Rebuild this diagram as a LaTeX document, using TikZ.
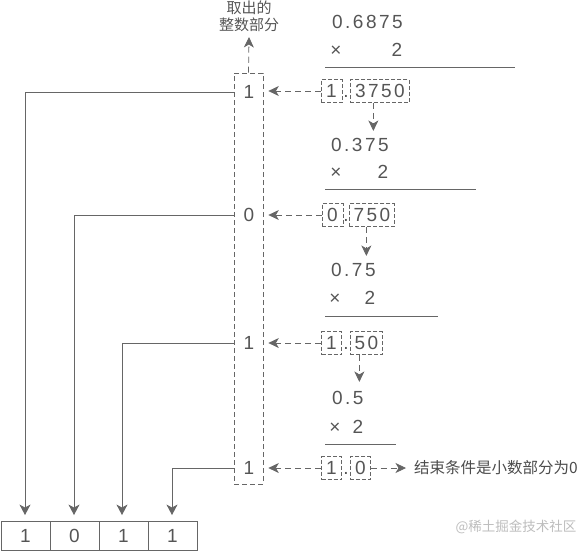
\documentclass[tikz,border=0pt]{standalone}
\usepackage{fontspec}
\setmainfont{Liberation Sans}
\newfontfamily\cjk{Noto Sans CJK SC}
\newfontfamily\numf{Liberation Sans}[LetterSpace=13]
\usetikzlibrary{arrows.meta}
\definecolor{tc}{HTML}{555555}
\definecolor{lc}{HTML}{666666}
\definecolor{wm}{HTML}{BDBDBD}
\begin{document}
\begin{tikzpicture}[x=1pt,y=-1pt,
  txt/.style={inner sep=0pt, text=tc, font=\fontsize{19}{19}\selectfont\numf, text height=13.7pt, text depth=0pt},
  dbox/.style={txt, draw=lc, line width=0.7pt, dash pattern=on 4pt off 2pt, minimum height=23pt},
  fbox/.style={dbox, anchor=west},
  cell/.style={txt, draw=lc, line width=0.9pt, minimum width=49pt, minimum height=29pt},
  darr/.style={draw=lc, line width=0.8pt, dash pattern=on 6pt off 4pt, -{Stealth[length=10.5pt,width=10pt,inset=3pt]}},
  sarr/.style={draw=lc, line width=0.9pt, -{Stealth[length=10.5pt,width=11pt,inset=3pt]}},
  rule/.style={draw=lc, line width=0.9pt},
  cjktxt/.style={inner sep=0pt, text=tc, font=\fontsize{15.5}{17}\selectfont\cjk}
]
\useasboundingbox (0,0) rectangle (583,552);

% column of extracted integer parts
\node[draw=lc, line width=0.7pt, dash pattern=on 5pt off 3pt, minimum width=29pt, minimum height=411pt, inner sep=0pt] (col) at (248.5,278.5) {};
\node[txt] (d1) at (249,92) {1};
\node[txt] (d2) at (249,215) {0};
\node[txt] (d3) at (249,343) {1};
\node[txt] (d4) at (249,468) {1};

% label on top
\node[cjktxt, align=center, font=\fontsize{15}{17}\selectfont\cjk] (lbl) at (249,16.5) {取出的\\整数部分};
\coordinate (uptip) at (249,37);
\draw[darr] (col.north) -- (uptip);

% step 1
\node[txt, anchor=west] (m1) at (332,22) {0.6875};
\node[txt] (x1) at (336,50) {×};
\node[txt] (t1) at (397,50) {2};
\draw[rule] (325,67) -- (515,67);
\node[dbox, minimum width=21pt] (i1) at (331.5,91) {1};
\node[txt] (p1) at (346,91) {.};
\node[fbox, minimum width=59pt] (f1) at (350,91) {3750};

% step 2
\node[txt, anchor=west] (m2) at (331,145) {0.375};
\node[txt] (x2) at (336,172) {×};
\node[txt] (t2) at (383,172) {2};
\draw[rule] (325,189) -- (476,189);
\node[dbox, minimum width=21pt] (i2) at (332.5,215) {0};
\node[txt] (p2) at (346,215) {.};
\node[fbox, minimum width=45pt] (f2) at (349,215) {750};

% step 3
\node[txt, anchor=west] (m3) at (331,270) {0.75};
\node[txt] (x3) at (335,298) {×};
\node[txt] (t3) at (370,298) {2};
\draw[rule] (325,316) -- (438,316);
\node[dbox, minimum width=20pt] (i3) at (331.5,343) {1};
\node[txt] (p3) at (346,343) {.};
\node[fbox, minimum width=32pt] (f3) at (350,343) {50};

% step 4
\node[txt, anchor=west] (m4) at (332,398) {0.5};
\node[txt] (x4) at (335,427) {×};
\node[txt] (t4) at (358,427) {2};
\draw[rule] (325,444) -- (396,444);
\node[dbox, minimum width=20pt] (i4) at (331.5,468) {1};
\node[txt] (p4) at (346,468) {.};
\node[fbox, minimum width=20pt] (f4) at (350,468) {0};

\node[cjktxt, anchor=west, text=tc!90!black] (endt) at (414,468) {结束条件是小数部分为0};
\draw[darr, shorten >=8pt] (f4.east) -- (endt.west);

% arrows to column
\foreach \k in {1,2,3,4}{
  \draw[darr, shorten >=5pt] (i\k.west) -- (i\k.west -| col.east);
}
% down arrows
\draw[darr, shorten >=7pt] ([xshift=-6.5pt]f1.south) -- ([xshift=-6.5pt]f1.south |- m2.north);
\draw[darr, shorten >=7pt] ([xshift=-5.5pt]f2.south) -- ([xshift=-5.5pt]f2.south |- m3.north);
\draw[darr, shorten >=9pt] ([xshift=-7pt]f3.south) -- ([xshift=-7pt]f3.south |- m4.north);

% result cells
\node[cell] (b1) at (25.5,536) {1};
\node[cell] (b2) at (74.5,536) {0};
\node[cell] (b3) at (123.5,536) {1};
\node[cell] (b4) at (172.5,536) {1};

\draw[sarr, shorten >=6pt] (d1 -| col.west) -| ([xshift=-0.5pt]b1.north);
\draw[sarr, shorten >=6pt] (d2 -| col.west) -| ([xshift=-0.5pt]b2.north);
\draw[sarr, shorten >=6pt] (d3 -| col.west) -| ([xshift=-1.5pt]b3.north);
\draw[sarr, shorten >=6pt] (d4 -| col.west) -| ([xshift=-0.5pt]b4.north);

% watermark
\node[inner sep=0pt, text=wm, font=\fontsize{13.5}{14}\selectfont\cjk] (wmk) at (516,527) {@稀土掘金技术社区};
\end{tikzpicture}
\end{document}
